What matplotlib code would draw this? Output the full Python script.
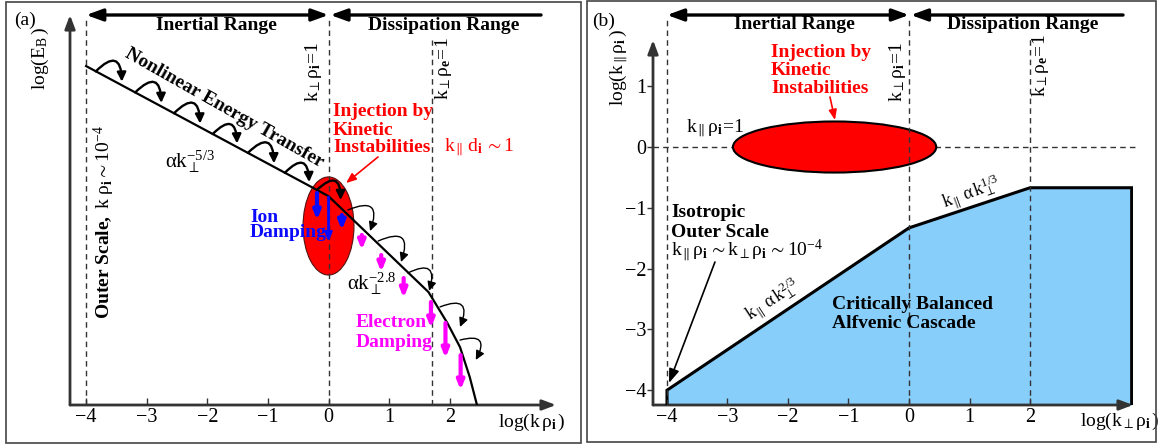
import matplotlib
matplotlib.use("Agg")
import matplotlib.pyplot as plt
from matplotlib.patches import Ellipse, Rectangle, FancyArrowPatch

plt.rcParams['font.family'] = ['Liberation Serif', 'DejaVu Serif']
plt.rcParams['mathtext.fontset'] = 'custom'
plt.rcParams['mathtext.rm'] = 'Liberation Serif'
plt.rcParams['mathtext.it'] = 'Liberation Serif:italic'
plt.rcParams['mathtext.bf'] = 'Liberation Serif:bold'
plt.rcParams['mathtext.default'] = 'rm'
plt.rcParams['mathtext.fallback'] = 'stix'

# ---------------- (a) magnetic energy spectrum ----------------
spec_logk = [-4.0, 0.0, 1.65, 1.96, 2.17, 2.33, 2.45]
spec_logE = [17.38, 10.71, 5.79, 4.21, 2.97, 1.44, 0.0]

# nonlinear transfer hooks: start and arrow-tip points (log k, log E)
hook_k0 = [-3.84, -3.19, -2.55, -1.91, -1.33, -0.72, -0.19, 0.32, 0.82, 1.31, 1.84, 2.17]
hook_E0 = [17.11, 16.03, 14.96, 13.90, 12.93, 11.91, 11.03, 10.00, 8.41, 6.77, 5.03, 3.33]
hook_k1 = [-3.41, -2.76, -2.12, -1.51, -0.90, -0.32, 0.20, 0.685, 1.196, 1.66, 2.17, 2.43]
hook_E1 = [16.58, 15.49, 14.43, 13.41, 12.39, 11.43, 10.51, 8.92, 7.33, 5.85, 4.00, 2.31]

ion_k = [-0.19, 0.0, 0.22]
ion_top = [10.87, 10.67, 9.74]
ion_bottom = [9.49, 8.36, 8.97]
ion_width = [3.0, 2.0, 3.0]

elec_k = [0.55, 0.87, 1.24, 1.69, 1.93, 2.18]
elec_top = [8.72, 7.69, 6.51, 5.28, 4.21, 2.56]
elec_bottom = [7.95, 6.82, 5.49, 3.95, 2.41, 0.77]

ticks_a = [-4, -3, -2, -1, 0, 1, 2]

# ---------------- (b) wavevector anisotropy ----------------
aniso_kperp = [-4.0, 0.0, 2.0, 3.68]
aniso_kpar = [-4.0, -1.33, -0.67, -0.67]
ticks_bx = [-4, -3, -2, -1, 0, 1, 2]
ticks_by = [-4, -3, -2, -1, 0, 1]

W, H = 1158, 445
AX_COL = '#333333'
DASH = (0, (4, 3))
RED, BLUE, MAG = '#ff0000', '#0a0aff', '#ff00ff'

fig = plt.figure(figsize=(W / 100, H / 100), dpi=100)


def px_axes(l, t, r, b):
    return [l / W, 1 - b / H, (r - l) / W, (b - t) / H]


# panel frames
fig.add_artist(Rectangle((6 / W, 2 / H), 575 / W, 441 / H, transform=fig.transFigure,
                         fill=False, lw=1.2, ec='#444444'))
fig.add_artist(Rectangle((587 / W, 3 / H), 569 / W, 441 / H, transform=fig.transFigure,
                         fill=False, lw=1.2, ec='#444444'))


def style_axes(ax, xt, yt=None):
    ax.set_facecolor('none')
    for s in ax.spines.values():
        s.set_visible(False)
    ax.set_xticks(xt)
    ax.set_xticklabels([f'{t}'.replace('-', '\u2212') for t in xt], fontsize=14.5)
    ax.tick_params(axis='x', direction='in', length=5, width=1, color=AX_COL, pad=2)
    if yt is None:
        ax.set_yticks([])
    else:
        ax.set_yticks(yt)
        ax.set_yticklabels([f'{t}'.replace('-', '\u2212') for t in yt], fontsize=14.5)
        ax.tick_params(axis='y', direction='out', length=4, width=1, color=AX_COL, pad=1)
    arrow = dict(arrowstyle='-|>,head_length=0.45,head_width=0.17', lw=2.0,
                 color=AX_COL, shrinkA=0, shrinkB=0, mutation_scale=18)
    ax.annotate('', xy=(1, 0), xytext=(0, 0), xycoords='axes fraction', arrowprops=arrow)
    ax.annotate('', xy=(0, 1), xytext=(0, 0), xycoords='axes fraction', arrowprops=arrow)


def range_arrows(ax, x_left, x_mid, x_right, y):
    both = dict(arrowstyle='<|-|>,head_length=0.55,head_width=0.2', lw=2.4, color='black',
                shrinkA=0, shrinkB=0, mutation_scale=18, clip_on=False)
    one = dict(arrowstyle='-|>,head_length=0.55,head_width=0.2', lw=2.4, color='black',
               shrinkA=0, shrinkB=0, mutation_scale=18, clip_on=False)
    ax.annotate('', xy=(x_left, y), xytext=(x_mid, y), arrowprops=both, annotation_clip=False)
    ax.annotate('', xy=(x_mid + 0.03, y), xytext=(x_right, y), arrowprops=one,
                annotation_clip=False)


bold = dict(fontsize=14, fontweight='bold')
damp_head = '-|>,head_length=0.42,head_width=0.17'

# ======================= panel (a) =======================
axa = fig.add_axes(px_axes(70, 15, 556, 405))
axa.set_xlim(-4.266, 3.754)
axa.set_ylim(0, 20)
style_axes(axa, ticks_a)

for xv, top in [(-4.0, 19.85), (0.0, 19.85), (1.7, 18.7)]:
    axa.plot([xv, xv], [0, top], ls=DASH, lw=1, color=AX_COL, clip_on=False, zorder=3)

range_arrows(axa, -4.0, 0.0, 3.507, 20.0)
axa.text(-1.856, 19.45, 'Inertial Range', ha='center', va='center', **bold)
axa.text(1.906, 19.45, 'Dissipation Range', ha='center', va='center', **bold)

axa.add_patch(Ellipse((0.0, 9.18), 0.84, 5.03, fc=RED, ec='#551111', lw=0.8, zorder=2))
axa.plot(spec_logk, spec_logE, color='black', lw=1.6, zorder=4, solid_joinstyle='round')

for i, (k0, e0, k1, e1) in enumerate(zip(hook_k0, hook_E0, hook_k1, hook_E1)):
    lw = 1.7 if i < 7 else 1.0
    axa.add_patch(FancyArrowPatch((k0, e0), (k1, e1), connectionstyle='arc3,rad=-1.15',
                                  arrowstyle='-|>,head_length=0.45,head_width=0.22',
                                  mutation_scale=12, lw=lw, color='black', zorder=5,
                                  shrinkA=0, shrinkB=0))

for k, t, b, w in zip(ion_k, ion_top, ion_bottom, ion_width):
    axa.annotate('', xy=(k, b), xytext=(k, t),
                 arrowprops=dict(arrowstyle=damp_head, lw=w, color=BLUE,
                                 shrinkA=0, shrinkB=0, mutation_scale=12),
                 zorder=6)
for k, t, b in zip(elec_k, elec_top, elec_bottom):
    axa.annotate('', xy=(k, b), xytext=(k, t),
                 arrowprops=dict(arrowstyle=damp_head, lw=3, color=MAG,
                                 shrinkA=0, shrinkB=0, mutation_scale=12),
                 zorder=6)

axa.text(-0.255, 17.08, r'$k_{\perp}\rho_{\mathbf{i}}\!=\!1$', rotation=90, fontsize=14,
         ha='center', va='center')
axa.text(1.89, 17.23, r'$k_{\perp}\rho_{\mathbf{e}}\!=\!1$', rotation=90, fontsize=14,
         ha='center', va='center')
axa.text(-1.72, 15.23, 'Nonlinear Energy Transfer', rotation=-29.5, rotation_mode='anchor',
         ha='center', va='center', **bold)
axa.text(-2.70, 12.5, r'$\alpha k_{\perp}^{-5/3}$', fontsize=15, ha='left', va='center')
axa.text(0.30, 6.2, r'$\alpha k_{\perp}^{-2.8}$', fontsize=15, ha='left', va='center')

for txt, yv in [('Injection by', 15.03), ('Kinetic', 14.08), ('Instabilities', 13.23)]:
    axa.text(0.074, yv, txt, color=RED, ha='left', va='center', **bold)
axa.annotate('', xy=(0.289, 11.38), xytext=(0.817, 12.72),
             arrowprops=dict(arrowstyle='-|>,head_length=0.5,head_width=0.2', lw=1.2,
                             color=RED, shrinkA=0, shrinkB=0, mutation_scale=12))
axa.text(1.906, 13.23, r'$k_{\parallel}\,d_{\mathbf{i}}\,{\sim}1$', color=RED, fontsize=14,
         ha='left', va='center')

axa.text(-1.295, 9.59, 'Ion', color=BLUE, ha='left', va='center', zorder=7, **bold)
axa.text(-1.295, 8.87, 'Damping', color=BLUE, ha='left', va='center', zorder=7, **bold)
axa.text(0.454, 4.21, 'Electron', color=MAG, ha='left', va='center', zorder=7, **bold)
axa.text(0.454, 3.23, 'Damping', color=MAG, ha='left', va='center', zorder=7, **bold)

axa.text(-3.705, 9.38,
         r'$\mathbf{Outer\ Scale,}\ k\ \rho_{\mathbf{i}}{\sim}10^{-4}$',
         rotation=90, fontsize=14, ha='center', va='center')
axa.text(2.797, -0.87, r'$\log(k\,\rho_{\mathbf{i}}\,)$', fontsize=14, ha='left',
         va='center', clip_on=False)

fig.text(25 / W, 1 - 20 / H, '(a)', fontsize=14, ha='center', va='center')
fig.text(40 / W, 1 - 58 / H, r'$\log(E_{B}\,)$', fontsize=14, rotation=90,
         ha='center', va='center')

# ======================= panel (b) =======================
axb = fig.add_axes(px_axes(653, 40, 1133, 405))
axb.set_xlim(-4.231, 3.702)
axb.set_ylim(-4.243, 1.760)
style_axes(axb, ticks_bx, ticks_by)

axb.fill_between(aniso_kperp, -4.243, aniso_kpar, color='#87cefa', lw=0, zorder=1)
axb.plot([aniso_kperp[0]] + aniso_kperp + [aniso_kperp[-1]],
         [-4.243] + aniso_kpar + [-4.243], color='black', lw=2.2, zorder=4,
         solid_joinstyle='miter')

axb.plot([-4.231, 3.77], [0, 0], ls=DASH, lw=1, color=AX_COL, clip_on=False, zorder=2)
for xv, top in [(-4.0, 2.13), (0.0, 2.13), (2.0, 1.79)]:
    axb.plot([xv, xv], [-4.243, top], ls=DASH, lw=1, color=AX_COL, clip_on=False, zorder=5)

axb.add_patch(Ellipse((-1.23, 0.0), 3.36, 0.84, fc=RED, ec='black', lw=1.5, zorder=3))

range_arrows(axb, -4.0, 0.0, 3.537, 2.171)
axb.text(-1.90, 2.007, 'Inertial Range', ha='center', va='center', clip_on=False, **bold)
axb.text(1.884, 2.007, 'Dissipation Range', ha='center', va='center', clip_on=False, **bold)

axb.text(-0.198, 1.234, r'$k_{\perp}\rho_{\mathbf{i}}\!=\!1$', rotation=90, fontsize=14,
         ha='center', va='center')
axb.text(2.18, 1.332, r'$k_{\perp}\rho_{\mathbf{e}}\!=\!1$', rotation=90, fontsize=14,
         ha='center', va='center')

for txt, yv in [('Injection by', 1.5625), ('Kinetic', 1.266), ('Instabilities', 0.970)]:
    axb.text(-2.281, yv, txt, color=RED, ha='left', va='center', **bold)
axb.annotate('', xy=(-1.223, 0.444), xytext=(-1.306, 0.822),
             arrowprops=dict(arrowstyle='-|>,head_length=0.5,head_width=0.2', lw=1.2,
                             color=RED, shrinkA=0, shrinkB=0, mutation_scale=12))
axb.text(-3.686, 0.3125, r'$k_{\parallel}\rho_{\mathbf{i}}\!=\!1$', fontsize=14,
         ha='left', va='center')

axb.text(1.025, -0.757, r'$k_{\parallel}\,\alpha\,k_{\perp}^{1/3}$', fontsize=13,
         rotation=20, rotation_mode='anchor', ha='center', va='center')
axb.text(-2.248, -2.516, r'$k_{\parallel}\,\alpha\,k_{\perp}^{2/3}$', fontsize=13,
         rotation=33, rotation_mode='anchor', ha='center', va='center')

axb.text(-3.934, -1.069, 'Isotropic', ha='left', va='center', **bold)
axb.text(-3.934, -1.398, 'Outer Scale', ha='left', va='center', **bold)
axb.text(-3.934, -1.694,
         r'$k_{\parallel}\rho_{\mathbf{i}}\,{\sim}k_{\perp}\rho_{\mathbf{i}}\,{\sim}10^{-4}$',
         fontsize=14, ha='left', va='center')
axb.annotate('', xy=(-3.967, -3.882), xytext=(-3.207, -1.891),
             arrowprops=dict(arrowstyle='-|>,head_length=0.6,head_width=0.22', lw=1.2,
                             color='black', shrinkA=0, shrinkB=0, mutation_scale=14),
             zorder=6)

axb.text(-1.273, -2.582, 'Critically Balanced', ha='left', va='center', zorder=6, **bold)
axb.text(-1.273, -2.895, 'Alfvenic Cascade', ha='left', va='center', zorder=6, **bold)

axb.text(2.83, -4.52, r'$\log(k_{\perp}\rho_{\mathbf{i}}\,)$', fontsize=14, ha='left',
         va='center', clip_on=False)

fig.text(604 / W, 1 - 21 / H, '(b)', fontsize=14, ha='center', va='center')
fig.text(619 / W, 1 - 67 / H, r'$\log(k_{\parallel}\rho_{\mathbf{i}}\,)$', fontsize=14,
         rotation=90, ha='center', va='center')

fig.savefig('out.png', dpi=100)
